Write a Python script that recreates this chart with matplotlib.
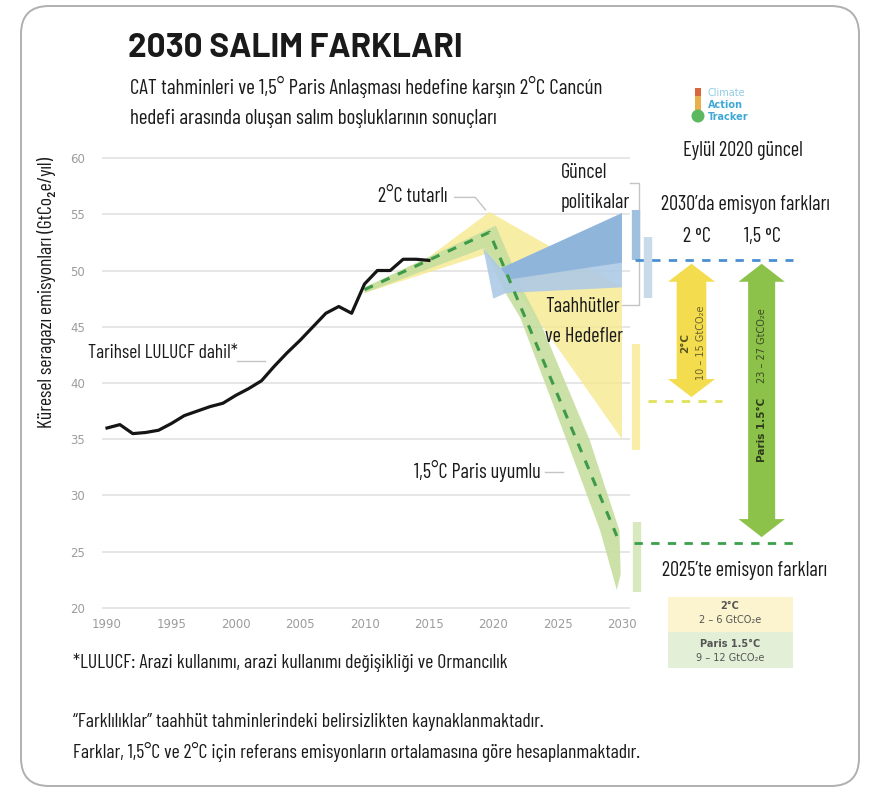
import numpy as np
import matplotlib
matplotlib.use('Agg')
import matplotlib.pyplot as plt
from matplotlib.patches import Polygon, Rectangle, FancyBboxPatch, Circle
from matplotlib.transforms import IdentityTransform

W, H = 884, 791
plt.rcParams['font.family'] = ['Barlow Condensed', 'Roboto Condensed', 'DejaVu Sans']

# historical emissions incl. LULUCF (GtCO2e/yr)
hist_years = np.arange(1990, 2016)
hist_vals = [36.0, 36.3, 35.5, 35.6, 35.8, 36.4, 37.1, 37.5, 37.9, 38.2,
             38.9, 39.5, 40.2, 41.5, 42.7, 43.8, 45.0, 46.2, 46.8, 46.2,
             48.8, 50.0, 50.0, 51.0, 51.0, 50.9]

# 2C consistent range (yellow)
c2_up_x = [2010, 2015, 2019.7, 2030]
c2_up = [48.4, 51.2, 55.2, 48.5]
c2_lo_x = [2010, 2019.8, 2030]
c2_lo = [48.0, 51.6, 35.0]

# 1.5C Paris compatible range (green) and its median pathway
p15_up_x = [2010, 2020.2, 2022.3, 2023.8, 2027.5, 2029.8, 2029.9]
p15_up = [48.5, 54.0, 48.3, 45.0, 34.9, 26.9, 23.0]
p15_lo_x = [2010, 2019.3, 2020.8, 2022.1, 2025.7, 2028.3, 2029.6]
p15_lo = [48.0, 52.0, 48.3, 45.8, 34.9, 26.9, 21.6]
p15_med_x = [2010, 2019.7, 2029.6]
p15_med = [48.3, 53.4, 26.4]

# current policies / pledges & targets (blue)
cp_up_x = [2019.2, 2020.6, 2030]
cp_up = [52.0, 50.2, 55.1]
cp_lo_x = [2019.4, 2020.0, 2021.0, 2030]
cp_lo = [51.0, 47.5, 48.0, 48.5]
cp_core_up_x = [2020.6, 2030]
cp_core_up = [50.2, 55.1]
cp_core_lo_x = [2021.2, 2030]
cp_core_lo = [49.2, 50.7]

# 2030 ranges shown as bars beside the chart
bar_names = ['policies', 'pledges', '2C', '1.5C']
bar_x = [2031.1, 2032.0, 2031.1, 2031.2]
bar_lo = [50.9, 47.6, 34.0, 21.4]
bar_hi = [55.4, 53.0, 43.5, 27.6]
bar_colors = ['#9fc0de', '#c9dbeb', '#f8eea8', '#d8e9bf']

# 2030 levels used for the gap arrows
lvl_policy = 50.9
lvl_2c = 38.4
lvl_15c = 25.8

years_ticks = list(range(1990, 2031, 5))
vals_ticks = list(range(20, 61, 5))


def fx(px):
    return px / W


def fy(py):
    return 1 - py / H


def fat_arrow(ax, xc, y0, y1, shaft, head, head_l, color):
    pts = [(xc, y1), (xc + head / 2, y1 - head_l), (xc + shaft / 2, y1 - head_l),
           (xc + shaft / 2, y0 + head_l), (xc + head / 2, y0 + head_l), (xc, y0),
           (xc - head / 2, y0 + head_l), (xc - shaft / 2, y0 + head_l),
           (xc - shaft / 2, y1 - head_l), (xc - head / 2, y1 - head_l)]
    ax.add_patch(Polygon(pts, closed=True, fc=color, ec='none', zorder=6, clip_on=False))


fig = plt.figure(figsize=(W / 100, H / 100), dpi=100)
fig.patch.set_facecolor('white')

border = FancyBboxPatch((21, H - 786), 838, 780, boxstyle='round,pad=0,rounding_size=28',
                        transform=IdentityTransform(), fill=False, ec='#b0b0b0', lw=1.4)
fig.add_artist(border)

ax = fig.add_axes([100.6 / W, 1 - 613.6 / H, 701.6 / W, 461.2 / H])
ax.set_xlim(1989.5, 2044)
ax.set_ylim(19.5, 60.5)
for s in ax.spines.values():
    s.set_visible(False)
ax.set_xticks(years_ticks)
ax.set_yticks(vals_ticks)
ax.tick_params(length=0, colors='#9c9c9c', labelsize=8.5)
ax.tick_params(axis='y', pad=11)
ax.tick_params(axis='x', pad=3)
for lab in ax.get_xticklabels() + ax.get_yticklabels():
    lab.set_family('DejaVu Sans')
ax.hlines(vals_ticks, 1989.6, 2030.6, color='#e4e4e4', lw=1.3, zorder=1)

# bands
ax.fill(np.concatenate([c2_up_x, c2_lo_x[::-1]]), np.concatenate([c2_up, c2_lo[::-1]]),
        fc='#f7e98e', alpha=0.8, ec='none', zorder=2)
ax.fill(np.concatenate([p15_up_x, p15_lo_x[::-1]]), np.concatenate([p15_up, p15_lo[::-1]]),
        fc='#c6de9e', alpha=0.9, ec='none', zorder=3)
ax.fill(np.concatenate([cp_up_x, cp_lo_x[::-1]]), np.concatenate([cp_up, cp_lo[::-1]]),
        fc='#aecae6', alpha=0.9, ec='none', zorder=4)
ax.fill(np.concatenate([cp_core_up_x, cp_core_lo_x[::-1]]), np.concatenate([cp_core_up, cp_core_lo[::-1]]),
        fc='#8cb3da', alpha=0.9, ec='none', zorder=4)
ax.plot(p15_med_x, p15_med, color='#3c9a48', lw=2.2, dashes=(3, 3), zorder=5)
ax.plot(hist_years, hist_vals, color='#151515', lw=2.3, zorder=6, solid_joinstyle='round')

# 2030 bars
for x, lo, hi, c in zip(bar_x, bar_lo, bar_hi, bar_colors):
    ax.plot([x, x], [lo, hi], color=c, lw=6, solid_capstyle='butt', zorder=3, clip_on=False)

# gap lines
ax.plot([2031.0, 2043.3], [lvl_policy, lvl_policy], color='#4a8fd0', lw=2, dashes=(3, 3), zorder=5, clip_on=False)
ax.plot([2032.0, 2037.8], [lvl_2c, lvl_2c], color='#e0e25a', lw=2, dashes=(3, 3), zorder=5, clip_on=False)
ax.plot([2030.9, 2043.3], [lvl_15c, lvl_15c], color='#3aa04a', lw=2, dashes=(3, 3), zorder=5, clip_on=False)

fat_arrow(ax, 2035.4, lvl_2c + 0.35, lvl_policy - 0.3, 2.3, 3.65, 1.6, '#f3dc4e')
fat_arrow(ax, 2040.85, lvl_15c + 0.5, lvl_policy - 0.3, 2.1, 3.6, 1.6, '#8cc24a')

ax.text(2034.9, 43.6, '2°C', rotation=90, ha='center', va='center', fontsize=7.5,
        fontweight='bold', family='DejaVu Sans', color='#5b5423', zorder=7)
ax.text(2036.1, 43.6, '10 – 15 GtCO₂e', rotation=90, ha='center', va='center', fontsize=7,
        family='DejaVu Sans', color='#6b6330', zorder=7)
ax.text(2040.85, 35.8, 'Paris 1.5°C', rotation=90, ha='center', va='center', fontsize=7.5,
        fontweight='bold', family='DejaVu Sans', color='#2c3a1a', zorder=7)
ax.text(2040.85, 43.3, '23 – 27 GtCO₂e', rotation=90, ha='center', va='center', fontsize=7,
        family='DejaVu Sans', color='#3b4a25', zorder=7)

# leader lines
lc = '#c4c4c4'
ax.plot([2000.1, 2002.3], [41.96, 41.96], color=lc, lw=1, zorder=1)
ax.plot([2017.0, 2018.6, 2019.4], [56.5, 56.5, 55.4], color=lc, lw=1, zorder=1)
ax.plot([2030.6, 2031.3, 2031.3, 2030.0], [57.8, 57.8, 46.9, 46.9], color=lc, lw=1, zorder=1, clip_on=False)
ax.plot([2024.0, 2025.4], [32.1, 32.1], color=lc, lw=1, zorder=1)

# texts
tc = '#1a1a1a'
fs = 14.6
fig.text(fx(128), fy(48), '2030 SALIM FARKLARI', family=['Barlow', 'DejaVu Sans'], fontweight='bold',
         fontsize=24, color=tc, va='center')
fig.text(fx(130), fy(87), 'CAT tahminleri ve 1,5° Paris Anlaşması hedefine karşın 2°C Cancún',
         fontsize=15.2, color=tc, va='center')
fig.text(fx(130), fy(118), 'hedefi arasında oluşan salım boşluklarının sonuçları',
         fontsize=15.2, color=tc, va='center')

fig.text(fx(47), fy(292), 'Küresel seragazı emisyonları (GtCo₂e/yıl)', rotation=90,
         fontsize=14.2, color=tc, ha='center', va='center')

fig.text(fx(88), fy(353), 'Tarihsel LULUCF dahil*', fontsize=14, color=tc, va='center')
fig.text(fx(378), fy(196), '2°C tutarlı', fontsize=fs, color=tc, va='center')
fig.text(fx(561), fy(173), 'Güncel', fontsize=fs, color=tc, va='center')
fig.text(fx(561), fy(203), 'politikalar', fontsize=fs, color=tc, va='center')
fig.text(fx(545), fy(307), 'Taahhütler', fontsize=fs, color=tc, va='center')
fig.text(fx(545), fy(337), 've Hedefler', fontsize=fs, color=tc, va='center')
fig.text(fx(414), fy(471), '1,5°C Paris uyumlu', fontsize=fs, color=tc, va='center')

fig.text(fx(743), fy(150), 'Eylül 2020 güncel', fontsize=fs, color=tc, ha='center', va='center')
fig.text(fx(745), fy(205), '2030’da emisyon farkları', fontsize=fs, color=tc, ha='center', va='center')
fig.text(fx(697), fy(237), '2 ⁰C', fontsize=fs, color=tc, ha='center', va='center')
fig.text(fx(762), fy(237), '1,5 ⁰C', fontsize=fs, color=tc, ha='center', va='center')
fig.text(fx(744), fy(570), '2025’te emisyon farkları', fontsize=fs, color=tc, ha='center', va='center')

fig.text(fx(73), fy(662), '*LULUCF: Arazi kullanımı, arazi kullanımı değişikliği ve Ormancılık',
         fontsize=14.2, color=tc, va='center')
fig.text(fx(73), fy(722), '“Farklılıklar” taahhüt tahminlerindeki belirsizlikten kaynaklanmaktadır.',
         fontsize=14.2, color=tc, va='center')
fig.text(fx(73), fy(752), 'Farklar, 1,5°C ve 2°C için referans emisyonların ortalamasına göre hesaplanmaktadır.',
         fontsize=14.2, color=tc, va='center')

# small legend box for 2025 gaps
fig.add_artist(Rectangle((fx(668), fy(632)), 125 / W, 35 / H, transform=fig.transFigure,
                         fc='#fcf4cf', ec='none'))
fig.add_artist(Rectangle((fx(668), fy(668)), 125 / W, 36 / H, transform=fig.transFigure,
                         fc='#e3efd6', ec='none'))
lg = dict(family='DejaVu Sans', fontsize=7, color='#555555', ha='center', va='center')
fig.text(fx(730), fy(606), '2°C', fontweight='bold', **lg)
fig.text(fx(730), fy(620), '2 – 6 GtCO₂e', **lg)
fig.text(fx(730), fy(644), 'Paris 1.5°C', fontweight='bold', **lg)
fig.text(fx(730), fy(658), '9 – 12 GtCO₂e', **lg)

# Climate Action Tracker logo
fig.add_artist(Rectangle((fx(695), fy(110)), 6 / W, 22 / H, transform=fig.transFigure,
                         fc='#e8b04a', ec='none'))
fig.add_artist(Rectangle((fx(695), fy(96)), 6 / W, 8 / H, transform=fig.transFigure,
                         fc='#d9663f', ec='none'))
fig.add_artist(Circle((698, H - 116), 6.5, transform=IdentityTransform(), fc='#5cb860', ec='none'))
fig.text(fx(708), fy(93), 'Climate', fontsize=7, color='#8fcbe3', family='DejaVu Sans', va='center')
fig.text(fx(708), fy(105), 'Action', fontsize=7, color='#3fa8d6', family='DejaVu Sans', fontweight='bold', va='center')
fig.text(fx(708), fy(117), 'Tracker', fontsize=7, color='#3fa8d6', family='DejaVu Sans', fontweight='bold', va='center')

fig.savefig('out.png', dpi=100, facecolor='white')
